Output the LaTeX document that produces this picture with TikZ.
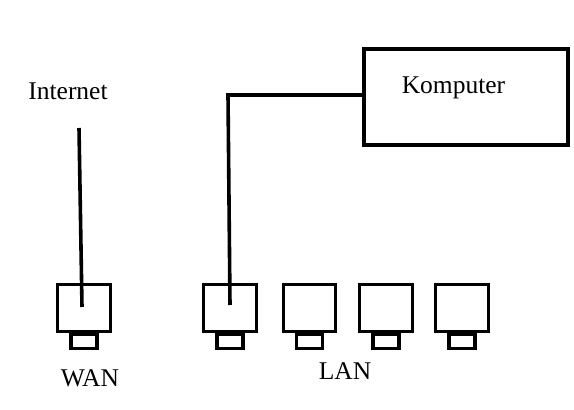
\documentclass[tikz,border=0pt]{standalone}
\usepackage{fontspec}
\setmainfont{Liberation Serif}
\begin{document}
\begin{tikzpicture}[x=1pt,y=-1pt,
  wire/.style={line width=3.6pt},
  port/.style={draw,line width=3.4pt,minimum width=52.5pt,minimum height=46.5pt,inner sep=0pt},
  tab/.style={draw,line width=3.4pt,minimum width=26pt,minimum height=14pt,inner sep=0pt,anchor=north},
  lbl/.style={font=\fontsize{25.5}{30}\selectfont,anchor=base,inner sep=0pt}]
\useasboundingbox (0,0) rectangle (574,410);
% ports
\node[port] (wan) at (84,308) {};
\node[port] (lan1) at (230,308) {};
\node[port] (lan2) at (309.5,308) {};
\node[port] (lan3) at (386,308) {};
\node[port] (lan4) at (462,308) {};
\foreach \p in {wan,lan1,lan2,lan3,lan4}{
  \node[tab] (\p tab) at (\p.south) {};
}
% computer
\node[draw,line width=3.6pt,minimum width=204.5pt,minimum height=96.5pt,inner sep=0pt] (komp) at (466,97) {};
\node[lbl] (komptext) at (453.5,93) {Komputer};
% labels
\node[lbl] (internet) at (68,99) {Internet};
\node[lbl] (wanlbl) at (90,386) {WAN};
\node[lbl] (lanlbl) at (345,379) {LAN};
% wires
\coordinate (inettop) at (79,128);
\coordinate (wanend) at (82,307);
\draw[wire] (inettop) -- (wanend);
\coordinate (lanend) at (230,305);
\coordinate (corner) at (228,95);
\draw[wire] (lanend) -- (corner) -- (corner -| komp.west);
\end{tikzpicture}
\end{document}
